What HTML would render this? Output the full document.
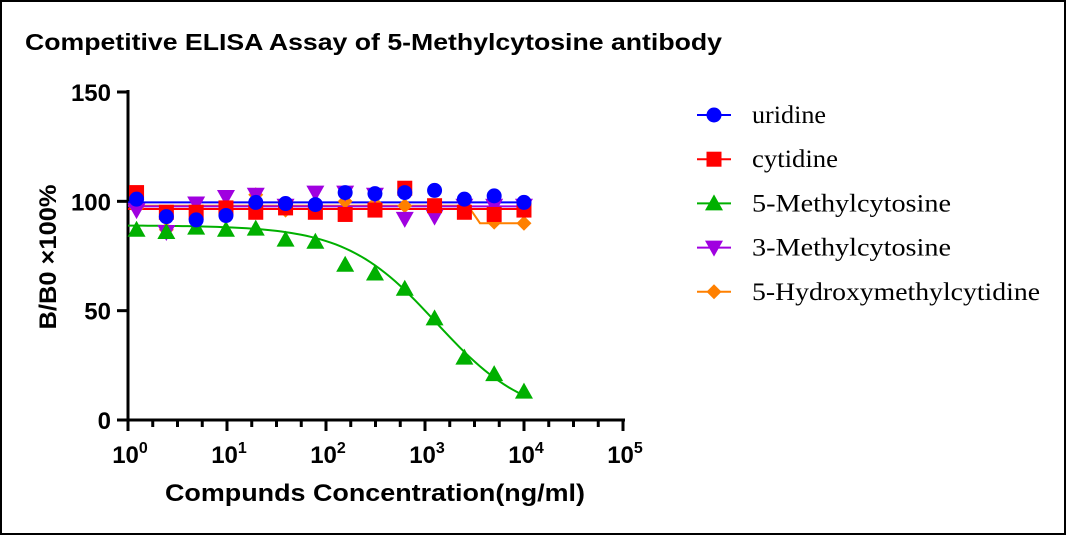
<!DOCTYPE html>
<html><head><meta charset="utf-8"><style>
html,body{margin:0;padding:0;background:#fff;}
svg{display:block;}
</style></head><body>
<svg id="s" width="1066" height="535" xmlns="http://www.w3.org/2000/svg" font-family="Liberation Sans, Arial, sans-serif">
<rect x="1" y="1" width="1064" height="533" fill="#fff" stroke="#000" stroke-width="2"/>
<text x="25" y="50" font-size="23" font-weight="bold" textLength="697" lengthAdjust="spacingAndGlyphs">Competitive ELISA Assay of 5-Methylcytosine antibody</text>
<text transform="translate(56,257) rotate(-90)" text-anchor="middle" font-size="24" font-weight="bold" textLength="145" lengthAdjust="spacingAndGlyphs">B/B0 ×100%</text>
<text x="375" y="501" text-anchor="middle" font-size="24" font-weight="bold" textLength="420" lengthAdjust="spacingAndGlyphs">Compunds Concentration(ng/ml)</text>
<g id="g"></g>
</svg>
<script>
var g=document.getElementById('g'),h='';
function X(v){return 128+99*Math.log10(v);}
function Y(v){return 420-v*328/150;}
h+='<line x1="128" y1="90" x2="128" y2="422" stroke="#000" stroke-width="3"/>';
h+='<line x1="126" y1="420" x2="625" y2="420" stroke="#000" stroke-width="3"/>';
[0,50,100,150].forEach(function(v){var y=Y(v);h+='<line x1="117" y1="'+y+'" x2="128" y2="'+y+'" stroke="#000" stroke-width="3"/>';
h+='<text x="111" y="'+(y+9)+'" text-anchor="end" font-size="24" font-weight="bold">'+v+'</text>';});
for(var d=0;d<=5;d++){var x=128+99*d;h+='<line x1="'+x+'" y1="420" x2="'+x+'" y2="431" stroke="#000" stroke-width="3"/>';
h+='<text x="'+(x+2)+'" y="463" text-anchor="middle" font-size="24" font-weight="bold">10<tspan dy="-10" font-size="16">'+d+'</tspan></text>';
if(d<5)for(var k=1;k<4;k++){var xm=x+99*k/4;h+='<line x1="'+xm+'" y1="420" x2="'+xm+'" y2="427" stroke="#000" stroke-width="3"/>';}}
var xs=[];for(var i=0;i<14;i++)xs.push(1.22*Math.pow(2,i));
function mk(t,x,y,c){
 if(t=='c')return '<circle cx="'+x+'" cy="'+y+'" r="7.5" fill="'+c+'"/>';
 if(t=='s')return '<rect x="'+(x-7.5)+'" y="'+(y-7.5)+'" width="15" height="15" fill="'+c+'"/>';
 if(t=='t')return '<polygon points="'+x+','+(y-9)+' '+(x+9)+','+(y+7)+' '+(x-9)+','+(y+7)+'" fill="'+c+'"/>';
 if(t=='v')return '<polygon points="'+x+','+(y+9)+' '+(x+9)+','+(y-7)+' '+(x-9)+','+(y-7)+'" fill="'+c+'"/>';
 if(t=='d')return '<polygon points="'+x+','+(y-7.5)+' '+(x+7.5)+','+y+' '+x+','+(y+7.5)+' '+(x-7.5)+','+y+'" fill="'+c+'"/>';}
h+='<polyline points="128,'+Y(98)+' 468,'+Y(98)+' 480,'+Y(90)+' 523,'+Y(90)+'" fill="none" stroke="#ff8000" stroke-width="2"/>';
h+='<line x1="128" y1="'+Y(97.7)+'" x2="523" y2="'+Y(97.7)+'" stroke="#a000e0" stroke-width="2"/>';
h+='<line x1="128" y1="'+Y(96.5)+'" x2="523" y2="'+Y(96.5)+'" stroke="#ff0000" stroke-width="2"/>';
h+='<line x1="128" y1="'+Y(99.5)+'" x2="523" y2="'+Y(99.5)+'" stroke="#0000ff" stroke-width="2"/>';
var p='';for(var lx=0;lx<=4.001;lx+=0.05){var v=Math.pow(10,lx);var yv=89/(1+Math.pow(v/1300,0.95));p+=X(v)+','+Y(yv)+' ';}
h+='<polyline points="'+p+'" fill="none" stroke="#00b000" stroke-width="2"/>';
var S=[
 ['d','#ff8000',[97,87,95,97,103,96,97,100,99,98,97,98,90.5,90]],
 ['v','#a000e0',[96,86,99,102,103,98,104,104,103,92,93,98,98,98]],
 ['t','#00b000',[87,86,88,87,87.5,82.5,81.5,71,67,60,46.5,28.5,21,13]],
 ['s','#ff0000',[104,95,95,97,95,97,95,94,96,106,98,95,94,96,99]],
 ['c','#0000ff',[101,93,91.5,93.5,99.5,99,98.5,104,103.5,104,105,101,102.5,99.5]]];
S.forEach(function(s){for(var i=0;i<14;i++)h+=mk(s[0],X(xs[i]),Y(s[2][i]),s[1]);});
var L=[['c','#0000ff','uridine',74],['s','#ff0000','cytidine',86],['t','#00b000','5-Methylcytosine',199],['v','#a000e0','3-Methylcytosine',199],['d','#ff8000','5-Hydroxymethylcytidine',288]];
L.forEach(function(l,i){var y=115+44.2*i;h+='<line x1="697" y1="'+y+'" x2="731" y2="'+y+'" stroke="'+l[1]+'" stroke-width="2"/>'+mk(l[0],714,y,l[1]);
h+='<text x="752" y="'+(y+8)+'" font-family="Liberation Serif, serif" font-size="25" textLength="'+l[3]+'" lengthAdjust="spacingAndGlyphs">'+l[2]+'</text>';});
g.innerHTML=h;
</script>
</body></html>
